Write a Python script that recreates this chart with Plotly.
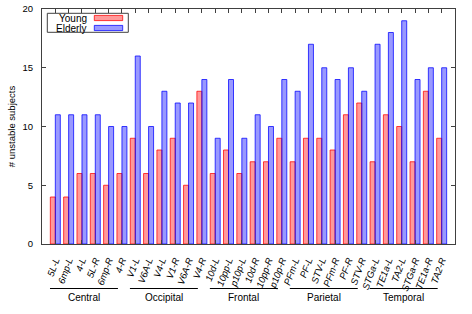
import plotly.graph_objects as go

regions = ["5L-L", "6mp-L", "4-L", "5L-R", "6mp-R", "4-R",
           "V1-L", "V6A-L", "V4-L", "V1-R", "V6A-R", "V4-R",
           "10d-L", "10pp-L", "p10p-L", "10d-R", "10pp-R", "p10p-R",
           "PFm-L", "PF-L", "STV-L", "PFm-R", "PF-R", "STV-R",
           "STGa-L", "TE1a-L", "TA2-L", "STGa-R", "TE1a-R", "TA2-R"]
young = [4, 4, 6, 6, 5, 6,
         9, 6, 8, 9, 5, 13,
         6, 8, 6, 7, 7, 9,
         7, 9, 9, 8, 11, 12,
         7, 11, 10, 7, 13, 9]
elderly = [11, 11, 11, 11, 10, 10,
           16, 10, 13, 12, 12, 14,
           9, 14, 9, 11, 10, 14,
           13, 17, 15, 14, 15, 13,
           17, 18, 19, 14, 15, 15]
groups = ["Central", "Occipital", "Frontal", "Parietal", "Temporal"]
yticks = [0, 5, 10, 15, 20]

W, H = 472, 314
L, R, T, B = 42, 17, 9, 70
pw, ph = W - L - R, H - T - B

def px(x):
    return (x - L) / pw

def py(y):
    return (H - B - y) / ph

FONT = "Liberation Sans, Arial, sans-serif"
AX = "#404040"

fig = go.Figure()
fig.add_trace(go.Bar(x=regions, y=young, name="Young",
                     marker=dict(color="rgba(255,0,0,0.4)", line=dict(color="rgba(255,0,0,0.75)", width=1))))
fig.add_trace(go.Bar(x=regions, y=elderly, name="Elderly",
                     marker=dict(color="rgba(0,0,255,0.4)", line=dict(color="rgba(0,0,255,0.75)", width=1))))

shapes = []
annotations = []
# legend box
shapes.append(dict(type="rect", xref="paper", yref="paper", x0=px(47.3), x1=px(128.3), y0=py(32.3), y1=py(13.3),
                   line=dict(color=AX, width=1), fillcolor="white", layer="above"))
for name, yc, fc, lc in [("Young", 18.0, "rgba(255,0,0,0.4)", "rgba(255,0,0,0.75)"),
                         ("Elderly", 28.0, "rgba(0,0,255,0.4)", "rgba(0,0,255,0.75)")]:
    shapes.append(dict(type="rect", xref="paper", yref="paper", x0=px(94.3), x1=px(122.7), y0=py(yc + 2.6), y1=py(yc - 2.6),
                       line=dict(color=lc, width=1), fillcolor=fc, layer="above"))
    annotations.append(dict(text=name, xref="paper", yref="paper", x=px(88.5), y=py(yc), xanchor="right", yanchor="middle",
                            showarrow=False, font=dict(family=FONT, size=10, color="black")))

# group lines & labels
for g, name in enumerate(groups):
    x0 = 6 * g - 0.4
    x1 = 6 * g + 4.7
    shapes.append(dict(type="line", xref="x", yref="paper", x0=x0, x1=x1, y0=py(288.5), y1=py(288.5),
                       line=dict(color="black", width=1)))
    annotations.append(dict(text=name, xref="x", yref="paper", x=(x0 + x1) / 2, y=py(297), xanchor="center", yanchor="middle",
                            showarrow=False, font=dict(family=FONT, size=10, color="black")))

fig.update_layout(
    width=W, height=H,
    margin=dict(l=L, r=R, t=T, b=B, pad=0, autoexpand=False),
    paper_bgcolor="white", plot_bgcolor="white",
    barmode="group", bargap=0.25, bargroupgap=0,
    showlegend=False,
    font=dict(family=FONT, size=10, color="black"),
    shapes=shapes, annotations=annotations,
)
fig.update_xaxes(range=[-1, 30], showline=True, linecolor=AX, linewidth=1, mirror="ticks",
                 ticks="inside", ticklen=4, tickcolor=AX, tickangle=-70, automargin=False,
                 ticklabelstandoff=6,
                 tickfont=dict(family=FONT, size=9.5, style="italic"), showgrid=False)
fig.update_yaxes(range=[0, 20], tickvals=yticks, showline=True, linecolor=AX, linewidth=1, mirror="ticks",
                 ticks="inside", ticklen=4, tickcolor=AX, showgrid=False, zeroline=False, automargin=False,
                 tickfont=dict(family=FONT, size=9.5), ticklabelstandoff=6,
                 title=dict(text="# unstable subjects", font=dict(family=FONT, size=9.5), standoff=5))

fig.write_html("out.html", config={"displayModeBar": False},
               post_script="document.body.style.margin='0';")
